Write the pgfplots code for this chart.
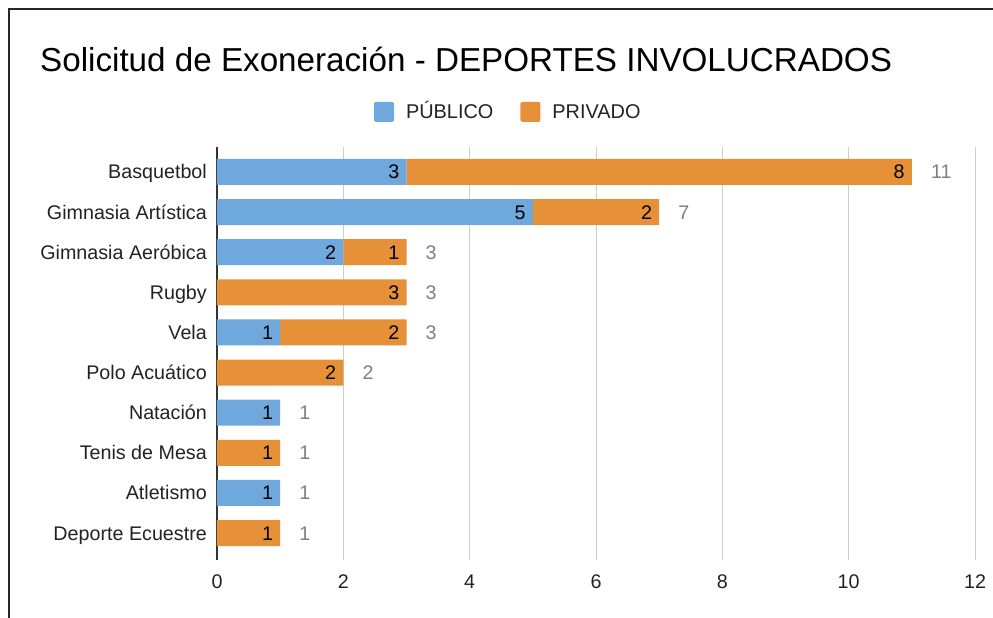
\documentclass[border=0pt]{standalone}
\usepackage{pgfplots}
\pgfplotsset{compat=1.18}
\usepackage{pgfplotstable}
\usepackage{fontspec}
\setmainfont{Liberation Sans}
\definecolor{pubblue}{HTML}{6FA8DC}
\definecolor{privorange}{HTML}{E69138}
\definecolor{gridgray}{HTML}{CCCCCC}
\definecolor{totgray}{HTML}{808080}
\definecolor{txt}{HTML}{222222}

\pgfplotstableread{
y pub priv tot
9 3 8 11
8 5 2 7
7 2 1 3
6 0 3 3
5 1 2 3
4 0 2 2
3 1 0 1
2 0 1 1
1 1 0 1
0 0 1 1
}\datatable

\pgfplotsset{
  common/.style={
    at={(217pt,58pt)}, anchor=south west,
    scale only axis, width=758pt, height=413pt,
    xmin=0, xmax=12, ymin=-0.67, ymax=9.62,
    /pgf/number format/assume math mode=true,
  },
}

\begin{document}
\begin{tikzpicture}
\path[use as bounding box] (0pt,0pt) rectangle (993pt,618pt);
\draw[line width=1.8pt, black!85] (9pt,0pt) -- (9pt,609pt) -- (993pt,609pt);
\node[anchor=base west, inner sep=0pt, font=\fontsize{33.2}{36}\selectfont, text=black] at (40pt,546pt) {Solicitud de Exoneración - DEPORTES INVOLUCRADOS};
\begin{axis}[
  common,
  xbar stacked, bar width=26pt,
  xtick={0,2,...,12},
  ytick={0,...,9},
  yticklabels={Deporte Ecuestre, Atletismo, Tenis de Mesa, Natación, Polo Acuático, Vela, Rugby, Gimnasia Aeróbica, Gimnasia Artística, Basquetbol},
  axis lines*=left,
  x axis line style={draw=none},
  y axis line style={draw=black!80, line width=1.1pt},
  major tick length=0pt,
  xmajorgrids, major grid style={gridgray, line width=1pt},
  tick label style={font=\fontsize{19.7}{22}\selectfont, text=txt},
  yticklabel style={inner sep=0pt, xshift=-10pt, text height=14pt, text depth=0pt},
  xticklabel style={inner sep=0pt, yshift=-15pt},
  legend columns=2,
  legend style={at={(0.383,1.085)}, anchor=center, draw=none, fill=none,
    font=\fontsize{19.9}{22}\selectfont, text=txt,
    /tikz/every even column/.append style={column sep=27pt},
    nodes={inner sep=0pt, text height=14.2pt, text depth=0pt}},
  legend image code/.code={\fill[#1, rounded corners=1.5pt] (0pt,-10pt) rectangle (20pt,10pt); \path (32pt,0pt);},
]
\addplot[draw=none, fill=pubblue] table[x=pub, y=y] {\datatable};
\addlegendentry{PÚBLICO}
\addplot[draw=none, fill=privorange] table[x=priv, y=y] {\datatable};
\addlegendentry{PRIVADO}
\end{axis}
\begin{axis}[
  common,
  hide axis,
  point meta=explicit,
  nodes near coords={\pgfmathfloatifflags{\pgfplotspointmeta}{0}{}{\pgfmathprintnumber{\pgfplotspointmeta}}},
  nodes near coords style={font=\fontsize{19.7}{22}\selectfont, text=black, inner sep=0pt, text height=14pt, text depth=0pt},
]
\addplot[only marks, mark=none, nodes near coords style={anchor=east, xshift=-7pt}] table[x=pub, y=y, meta=pub] {\datatable};
\addplot[only marks, mark=none, nodes near coords style={anchor=east, xshift=-7pt}] table[x=tot, y=y, meta=priv] {\datatable};
\addplot[only marks, mark=none, nodes near coords style={anchor=west, xshift=19pt, text=totgray}] table[x=tot, y=y, meta=tot] {\datatable};
\end{axis}
\end{tikzpicture}
\end{document}
